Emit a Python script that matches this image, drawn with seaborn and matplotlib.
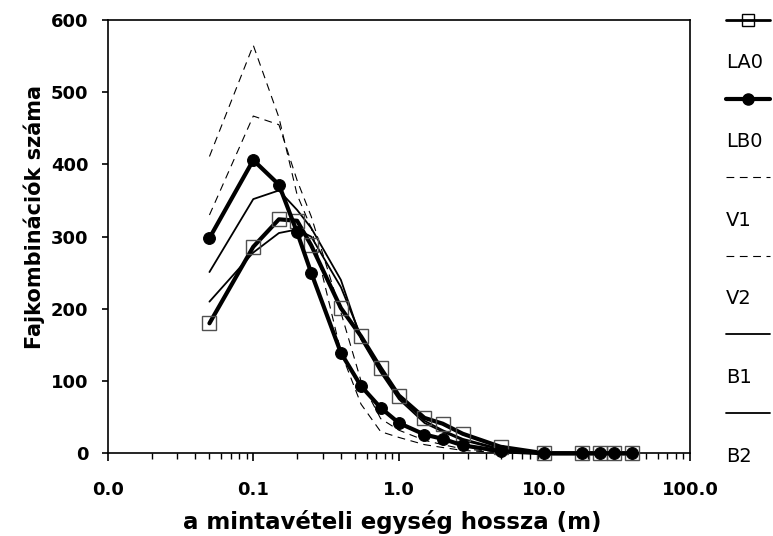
import numpy as np
import pandas as pd
import matplotlib
matplotlib.use('Agg')
import matplotlib.pyplot as plt
from matplotlib.ticker import FixedLocator, FuncFormatter, LogLocator, NullFormatter
import seaborn as sns

# sampling unit length (m)
lengths = [0.05, 0.1, 0.15, 0.2, 0.25, 0.4, 0.55, 0.75, 1.0, 1.5, 2.0, 2.75, 5.0, 10.0, 18.0, 24.0, 30.0, 40.0]

# number of species combinations per series
la0 = [180, 286, 324, 322, 288, 201, 162, 118, 80, 49, 41, 27, 9, 0, 0, 0, 0, 0]
lb0 = [298, 406, 372, 306, 250, 139, 93, 63, 42, 26, 20, 11, 3, 0, 0, 0, 0, 0]
v1 = [411, 565, 465, 358, 312, 140, 68, 30, 22, 12, 8, 4, 1, 0, 0, 0, 0, 0]
v2 = [330, 467, 455, 378, 328, 195, 100, 48, 32, 18, 12, 6, 2, 0, 0, 0, 0, 0]
b1 = [251, 352, 364, 337, 312, 240, 158, 112, 75, 42, 30, 18, 5, 0, 0, 0, 0, 0]
b2 = [210, 278, 305, 310, 300, 230, 162, 115, 78, 45, 32, 20, 6, 0, 0, 0, 0, 0]

series_names = ['LA0', 'LB0', 'V1', 'V2', 'B1', 'B2']
series_values = [la0, lb0, v1, v2, b1, b2]

dash = (0, (7, 5))
styles = {
    'LA0': dict(color='black', lw=3.0, marker='s', ms=10.5, mfc='none', mec='#505050', mew=1.0, zorder=4),
    'LB0': dict(color='black', lw=3.0, marker='o', ms=8.5, mfc='black', mec='black', zorder=5),
    'V1': dict(color='black', lw=0.8, linestyle=dash, zorder=2),
    'V2': dict(color='black', lw=0.8, linestyle=dash, zorder=2),
    'B1': dict(color='black', lw=1.3, zorder=3),
    'B2': dict(color='black', lw=1.3, zorder=3),
}

sns.set_style('ticks')
plt.rcParams['font.family'] = ['DejaVu Sans']

fig = plt.figure(figsize=(7.73, 5.36), dpi=100)
ax = fig.add_axes([107.7 / 773, 1 - 453.3 / 536, (690 - 107.7) / 773, (453.3 - 20) / 536])

# draw the series back to front
for name in ['V1', 'V2', 'B1', 'B2', 'LA0', 'LB0']:
    df = pd.DataFrame({'x': lengths, 'y': series_values[series_names.index(name)]})
    sns.lineplot(data=df, x='x', y='y', ax=ax, clip_on=False, **styles[name])

ax.set_xscale('log')
ax.set_xlim(0.01, 100)
ax.set_ylim(0, 600)
ax.xaxis.set_major_locator(FixedLocator([0.01, 0.1, 1, 10, 100]))
ax.xaxis.set_major_formatter(FuncFormatter(lambda v, p: f"{v:.1f}"))
ax.xaxis.set_minor_locator(LogLocator(base=10, subs=np.arange(2, 10)))
ax.xaxis.set_minor_formatter(NullFormatter())
ax.set_yticks(range(0, 601, 100))

for sp in ax.spines.values():
    sp.set_visible(True)
    sp.set_color('black')
    sp.set_linewidth(1.2)

ax.tick_params(axis='both', which='major', direction='out', color='black', width=1.2,
               labelsize=13, labelcolor='black')
ax.tick_params(axis='x', which='major', length=6, pad=14)
ax.tick_params(axis='y', which='major', length=4, pad=10)
ax.tick_params(axis='x', which='minor', direction='out', length=4, width=1.0, color='black')
for lab in ax.get_xticklabels() + ax.get_yticklabels():
    lab.set_fontweight('bold')

ax.set_xlabel('a mintavételi egység hossza (m)', fontsize=16.5, fontweight='bold', color='black')
ax.set_ylabel('Fajkombinációk száma', fontsize=15, fontweight='bold', color='black')
ax.xaxis.set_label_coords(0.488, -0.132)
ax.yaxis.set_label_coords(-0.108, 0.5465)

# legend on the right: handle line above each label
lax = fig.add_axes([726 / 773, 0, 44 / 773, 1])
lax.set_xlim(0, 1)
lax.set_ylim(536, 0)
lax.axis('off')
for i, name in enumerate(series_names):
    y = 20 + 78.6 * i
    st = styles[name]
    lw = 2.0 if name == 'LA0' else st['lw']
    lax.plot([0, 1], [y, y], color='black', lw=lw, linestyle=st.get('linestyle', '-'),
             clip_on=False, zorder=2)
    if 'marker' in st:
        lax.plot([0.5], [y], linestyle='none', marker=st['marker'], ms=8,
                 mfc=st['mfc'], mec='black', mew=1.0, clip_on=False, zorder=3)
    lax.text(0, y + 43, name, fontsize=14, va='center', ha='left', color='black')

fig.savefig('out.png', dpi=100)
